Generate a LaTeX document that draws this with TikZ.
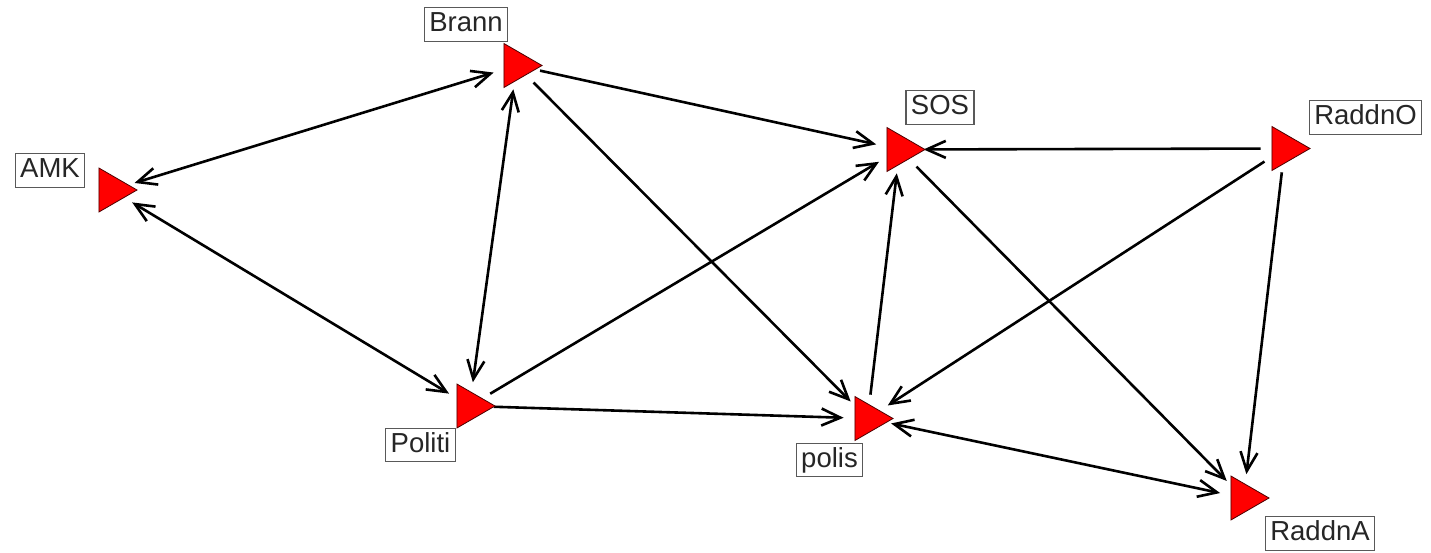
\documentclass[tikz,border=0pt]{standalone}
\usepackage{fontspec}
\setmainfont{Liberation Sans}
\usetikzlibrary{arrows.meta,calc}
\tikzset{
  vtx/.style={circle, draw=none, minimum size=48pt, inner sep=0pt, outer sep=0pt},
  lab/.style={draw=black!65, line width=1.3pt, fill=white, inner xsep=5pt, inner ysep=4pt,
    text height=20pt, text depth=5.5pt, text=black!85, font=\fontsize{27.5}{30}\selectfont},
  edge/.style={line width=2.6pt, black, -{Straight Barb[length=19pt,width=17pt,line width=2.6pt]}},
  medge/.style={line width=2.6pt, black, {Straight Barb[length=19pt,width=17pt,line width=2.6pt]}-{Straight Barb[length=19pt,width=17pt,line width=2.6pt]}},
  trifill/.style={fill=red, draw=black!70!red, line width=0.8pt}
}
\newcommand\mytri[1]{\path[trifill] ($(#1)+(-12.7,-22)$) -- ++(0,44) -- ++(38.1,-22) -- cycle;}
\begin{document}
\begin{tikzpicture}[x=1pt,y=-1pt]
\useasboundingbox (0,0) rectangle (1431,552);
% vertices (centres of the triangles)
\node[vtx] (Brann) at (516.6,65.5) {};
\node[vtx] (AMK) at (111.6,190) {};
\node[vtx] (SOS) at (899.6,149.5) {};
\node[vtx] (RaddnO) at (1284.6,148.5) {};
\node[vtx] (Politi) at (469.6,406) {};
\node[vtx] (polis) at (867.6,418.5) {};
\node[vtx] (RaddnA) at (1243.6,498) {};
% edges
\draw[medge] (AMK) -- (Brann);
\draw[medge] (AMK) -- (Politi);
\draw[medge] (Brann) -- (Politi);
\draw[edge] (Brann) -- (SOS);
\draw[edge] (Brann) -- (polis);
\draw[edge] (Politi) -- (SOS);
\draw[edge] (Politi) -- (polis);
\draw[edge] (polis) -- (SOS);
\draw[edge] (RaddnO) -- (SOS);
\draw[edge] (RaddnO) -- (polis);
\draw[edge] (RaddnO) -- (RaddnA);
\draw[edge] (SOS) -- (RaddnA);
\draw[medge] (polis) -- (RaddnA);
% triangles
\mytri{Brann}
\mytri{AMK}
\mytri{SOS}
\mytri{RaddnO}
\mytri{Politi}
\mytri{polis}
\mytri{RaddnA}
% labels
\node[lab] (lBrann) at (466,24.5) {Brann};
\node[lab] (lAMK) at (50,170.5) {AMK};
\node[lab] (lSOS) at (940,107.5) {SOS};
\node[lab] (lRaddnO) at (1365.5,117.5) {RaddnO};
\node[lab] (lPoliti) at (420.5,445) {Politi};
\node[lab] (lpolis) at (829.5,460) {polis};
\node[lab] (lRaddnA) at (1320,533.5) {RaddnA};
\end{tikzpicture}
\end{document}
